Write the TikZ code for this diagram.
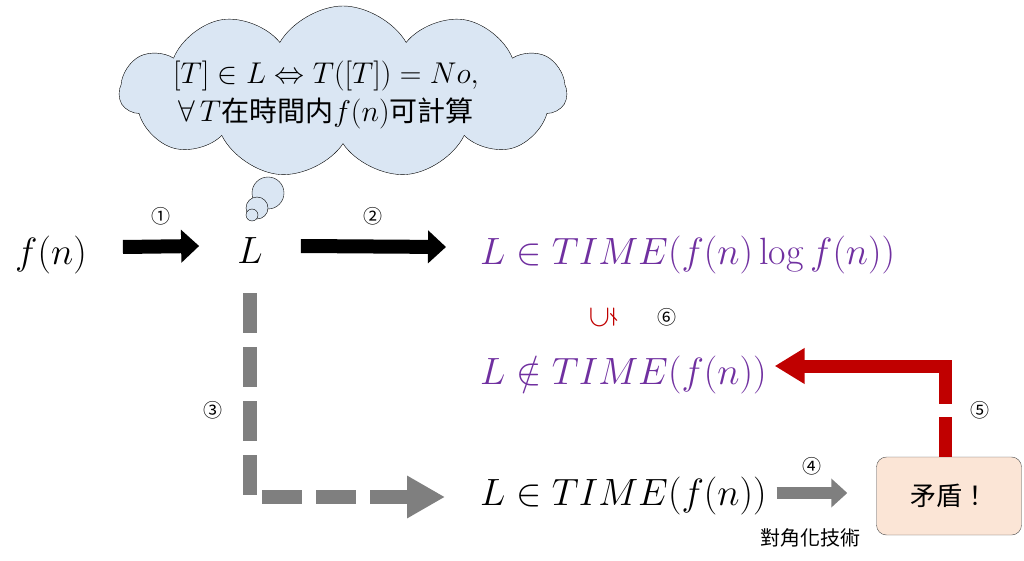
\RequirePackage{fix-cm}
\documentclass[tikz,border=0pt]{standalone}
\usepackage{fontspec,amssymb,graphicx}
\newfontfamily\cjk{Noto Sans CJK TC}
\usetikzlibrary{shapes.symbols,arrows.meta,positioning}

\definecolor{cloudblue}{HTML}{DAE6F3}
\definecolor{setpurple}{HTML}{7030A0}
\definecolor{darkred}{HTML}{C00000}
\definecolor{boxpink}{HTML}{FBE5D6}
\definecolor{arrowgray}{HTML}{7F7F7F}

\begin{document}
\begin{tikzpicture}[
    x=1pt,y=-1pt,
    big math/.style={font=\fontsize{38}{44}\selectfont, inner sep=0pt},
    numlabel/.style={font=\cjk\fontsize{19}{21}\selectfont, inner sep=0pt},
    blockarrow/.style={line width=14pt, -{Triangle[length=18pt,width=32pt]}},
    dasharrow/.style={arrowgray, line width=14pt, dash pattern=on 40pt off 14pt,
        -{Triangle[length=38pt,width=40pt]}},
    redarrow/.style={darkred, line width=13pt, dash pattern=on 40pt off 13pt on 300pt off 0pt,
        -{Triangle[length=30pt,width=34pt]}},
    contrabox/.style={draw=black!70, fill=boxpink, rounded corners=10pt,
        minimum width=145pt, minimum height=78pt, font=\cjk\fontsize{26}{28}\selectfont}
]
\useasboundingbox (0,0) rectangle (1024,561);

% thought cloud
\node[cloud, draw, fill=cloudblue, cloud puffs=11, cloud puff arc=120, aspect=2.6,
    minimum width=447pt, minimum height=172pt] (thought) at (343,92) {};
\node[align=center, font=\fontsize{30}{38}\selectfont] (thoughttext) at (326,95)
    {$[T]\in L\Leftrightarrow T([T])=No,$\\$\forall\,T${\cjk\fontsize{28}{38}\selectfont 在時間内}$f(n)${\cjk\fontsize{28}{38}\selectfont 可計算}};
\draw[fill=cloudblue] (268,193) circle[radius=16];
\draw[fill=cloudblue] (257,208) circle[radius=11];
\draw[fill=cloudblue] (252,215) circle[radius=6];

% top row
\node[big math, anchor=base west] (fn) at (15,264) {$f(n)$};
\node[big math, anchor=base] (L) at (250,263) {$L$};
\node[big math, anchor=base west, text=setpurple] (upper) at (480,264) {$L\in TIME(f(n)\log f(n))$};
\draw[blockarrow] ([xshift=36pt,yshift=17pt]fn.base east) -- ([xshift=-38pt,yshift=17pt]L.base west)
    node[numlabel, midway, above=14pt] (n1) {①};
\draw[blockarrow] ([xshift=38pt,yshift=17pt]L.base east) -- ([xshift=-34pt,yshift=17pt]upper.base west)
    node[numlabel, midway, above=14pt] (n2) {②};

% middle
\node[text=darkred] (strict) at (603,317) {\scalebox{3.1}{\rotatebox{90}{$\subsetneq$}}};
\node[numlabel] (n6) at (667,317) {⑥};
\node[big math, anchor=base west, text=setpurple] (notin) at (480,384) {$L\notin TIME(f(n))$};

% bottom row
\node[big math, anchor=base west] (inTime) at (480,505) {$L\in TIME(f(n))$};
\node[contrabox] (contra) at (949,496) {矛盾！};

\draw[dasharrow] ([yshift=-30pt]L.south) |- ([xshift=-35pt,yshift=8pt]inTime.base west);
\node[numlabel] (n3) at (213,410) {③};

\draw[arrowgray, line width=12pt, -{Triangle[length=16pt,width=28pt]}]
    ([xshift=10pt,yshift=12pt]inTime.base east) -- ([xshift=-29pt,yshift=12pt]inTime.base east -| contra.west)
    node[numlabel, text=black, midway, above=12pt] (n4) {④};
\node[font=\cjk\fontsize{20}{22}\selectfont] (diag) at (810,538) {對角化技術};

\draw[redarrow] ([xshift=-4pt]contra.north) |- ([xshift=8pt,yshift=18pt]notin.base east);
\node[numlabel] (n5) at (980,410) {⑤};
\end{tikzpicture}
\end{document}
